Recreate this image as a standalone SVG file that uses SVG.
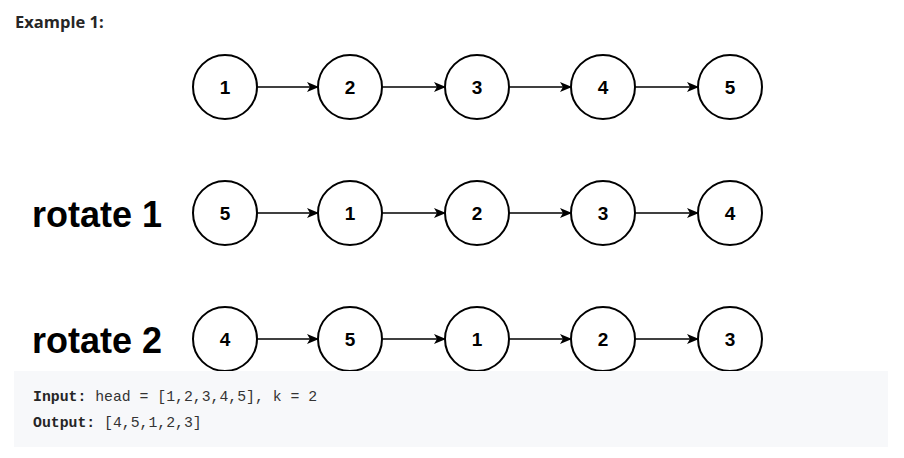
<svg xmlns="http://www.w3.org/2000/svg" width="904" height="458" viewBox="0 0 904 458">
<style>
.n circle{fill:#fff;stroke:#000;stroke-width:2}
.n text{font-family:"Liberation Sans",Arial,sans-serif;font-weight:bold;font-size:19px;text-anchor:middle;fill:#000}
.lbl{font-family:"Liberation Sans",Arial,sans-serif;font-weight:bold;font-size:36px;fill:#000}
.e line{stroke:#000;stroke-width:1.5}
.code{font-family:"Liberation Mono","DejaVu Sans Mono",monospace;font-size:14.8px;fill:#333}
.code .b{font-weight:bold;fill:#262626}
</style>
<defs>
<marker id="ah" markerWidth="12" markerHeight="10" refX="11" refY="5" orient="auto" markerUnits="userSpaceOnUse">
<path d="M0,0 L12,5 L0,10 L3,5 Z" fill="#000"/>
</marker>
</defs>
<rect width="904" height="458" fill="#fff"/>
<text x="15" y="28" font-family="'Open Sans','Noto Sans',sans-serif" font-weight="bold" font-size="16.5" fill="#262626">Example 1:</text>
<text class="lbl" x="32" y="227">rotate 1</text>
<text class="lbl" x="32" y="353">rotate 2</text>
<g id="connectors" class="e">
<line x1="257" y1="87" x2="318" y2="87" marker-end="url(#ah)"/>
<line x1="382" y1="87" x2="445" y2="87" marker-end="url(#ah)"/>
<line x1="509" y1="87" x2="571" y2="87" marker-end="url(#ah)"/>
<line x1="635" y1="87" x2="698" y2="87" marker-end="url(#ah)"/>
<line x1="257" y1="213" x2="318" y2="213" marker-end="url(#ah)"/>
<line x1="382" y1="213" x2="445" y2="213" marker-end="url(#ah)"/>
<line x1="509" y1="213" x2="571" y2="213" marker-end="url(#ah)"/>
<line x1="635" y1="213" x2="698" y2="213" marker-end="url(#ah)"/>
<line x1="257" y1="339" x2="318" y2="339" marker-end="url(#ah)"/>
<line x1="382" y1="339" x2="445" y2="339" marker-end="url(#ah)"/>
<line x1="509" y1="339" x2="571" y2="339" marker-end="url(#ah)"/>
<line x1="635" y1="339" x2="698" y2="339" marker-end="url(#ah)"/>
</g>
<g id="r1n1" class="n"><circle cx="225" cy="87" r="32"/><text x="225" y="94">1</text></g>
<g id="r1n2" class="n"><circle cx="350" cy="87" r="32"/><text x="350" y="94">2</text></g>
<g id="r1n3" class="n"><circle cx="477" cy="87" r="32"/><text x="477" y="94">3</text></g>
<g id="r1n4" class="n"><circle cx="603" cy="87" r="32"/><text x="603" y="94">4</text></g>
<g id="r1n5" class="n"><circle cx="730" cy="87" r="32"/><text x="730" y="94">5</text></g>
<g id="r2n1" class="n"><circle cx="225" cy="213" r="32"/><text x="225" y="220">5</text></g>
<g id="r2n2" class="n"><circle cx="350" cy="213" r="32"/><text x="350" y="220">1</text></g>
<g id="r2n3" class="n"><circle cx="477" cy="213" r="32"/><text x="477" y="220">2</text></g>
<g id="r2n4" class="n"><circle cx="603" cy="213" r="32"/><text x="603" y="220">3</text></g>
<g id="r2n5" class="n"><circle cx="730" cy="213" r="32"/><text x="730" y="220">4</text></g>
<g id="r3n1" class="n"><circle cx="225" cy="339" r="32"/><text x="225" y="346">4</text></g>
<g id="r3n2" class="n"><circle cx="350" cy="339" r="32"/><text x="350" y="346">5</text></g>
<g id="r3n3" class="n"><circle cx="477" cy="339" r="32"/><text x="477" y="346">1</text></g>
<g id="r3n4" class="n"><circle cx="603" cy="339" r="32"/><text x="603" y="346">2</text></g>
<g id="r3n5" class="n"><circle cx="730" cy="339" r="32"/><text x="730" y="346">3</text></g>
<rect x="14" y="371" width="874" height="76" fill="#f7f8fa"/>
<text class="code" x="33" y="401"><tspan class="b">Input:</tspan> head = [1,2,3,4,5], k = 2</text>
<text class="code" x="33" y="427"><tspan class="b">Output:</tspan> [4,5,1,2,3]</text>
</svg>
